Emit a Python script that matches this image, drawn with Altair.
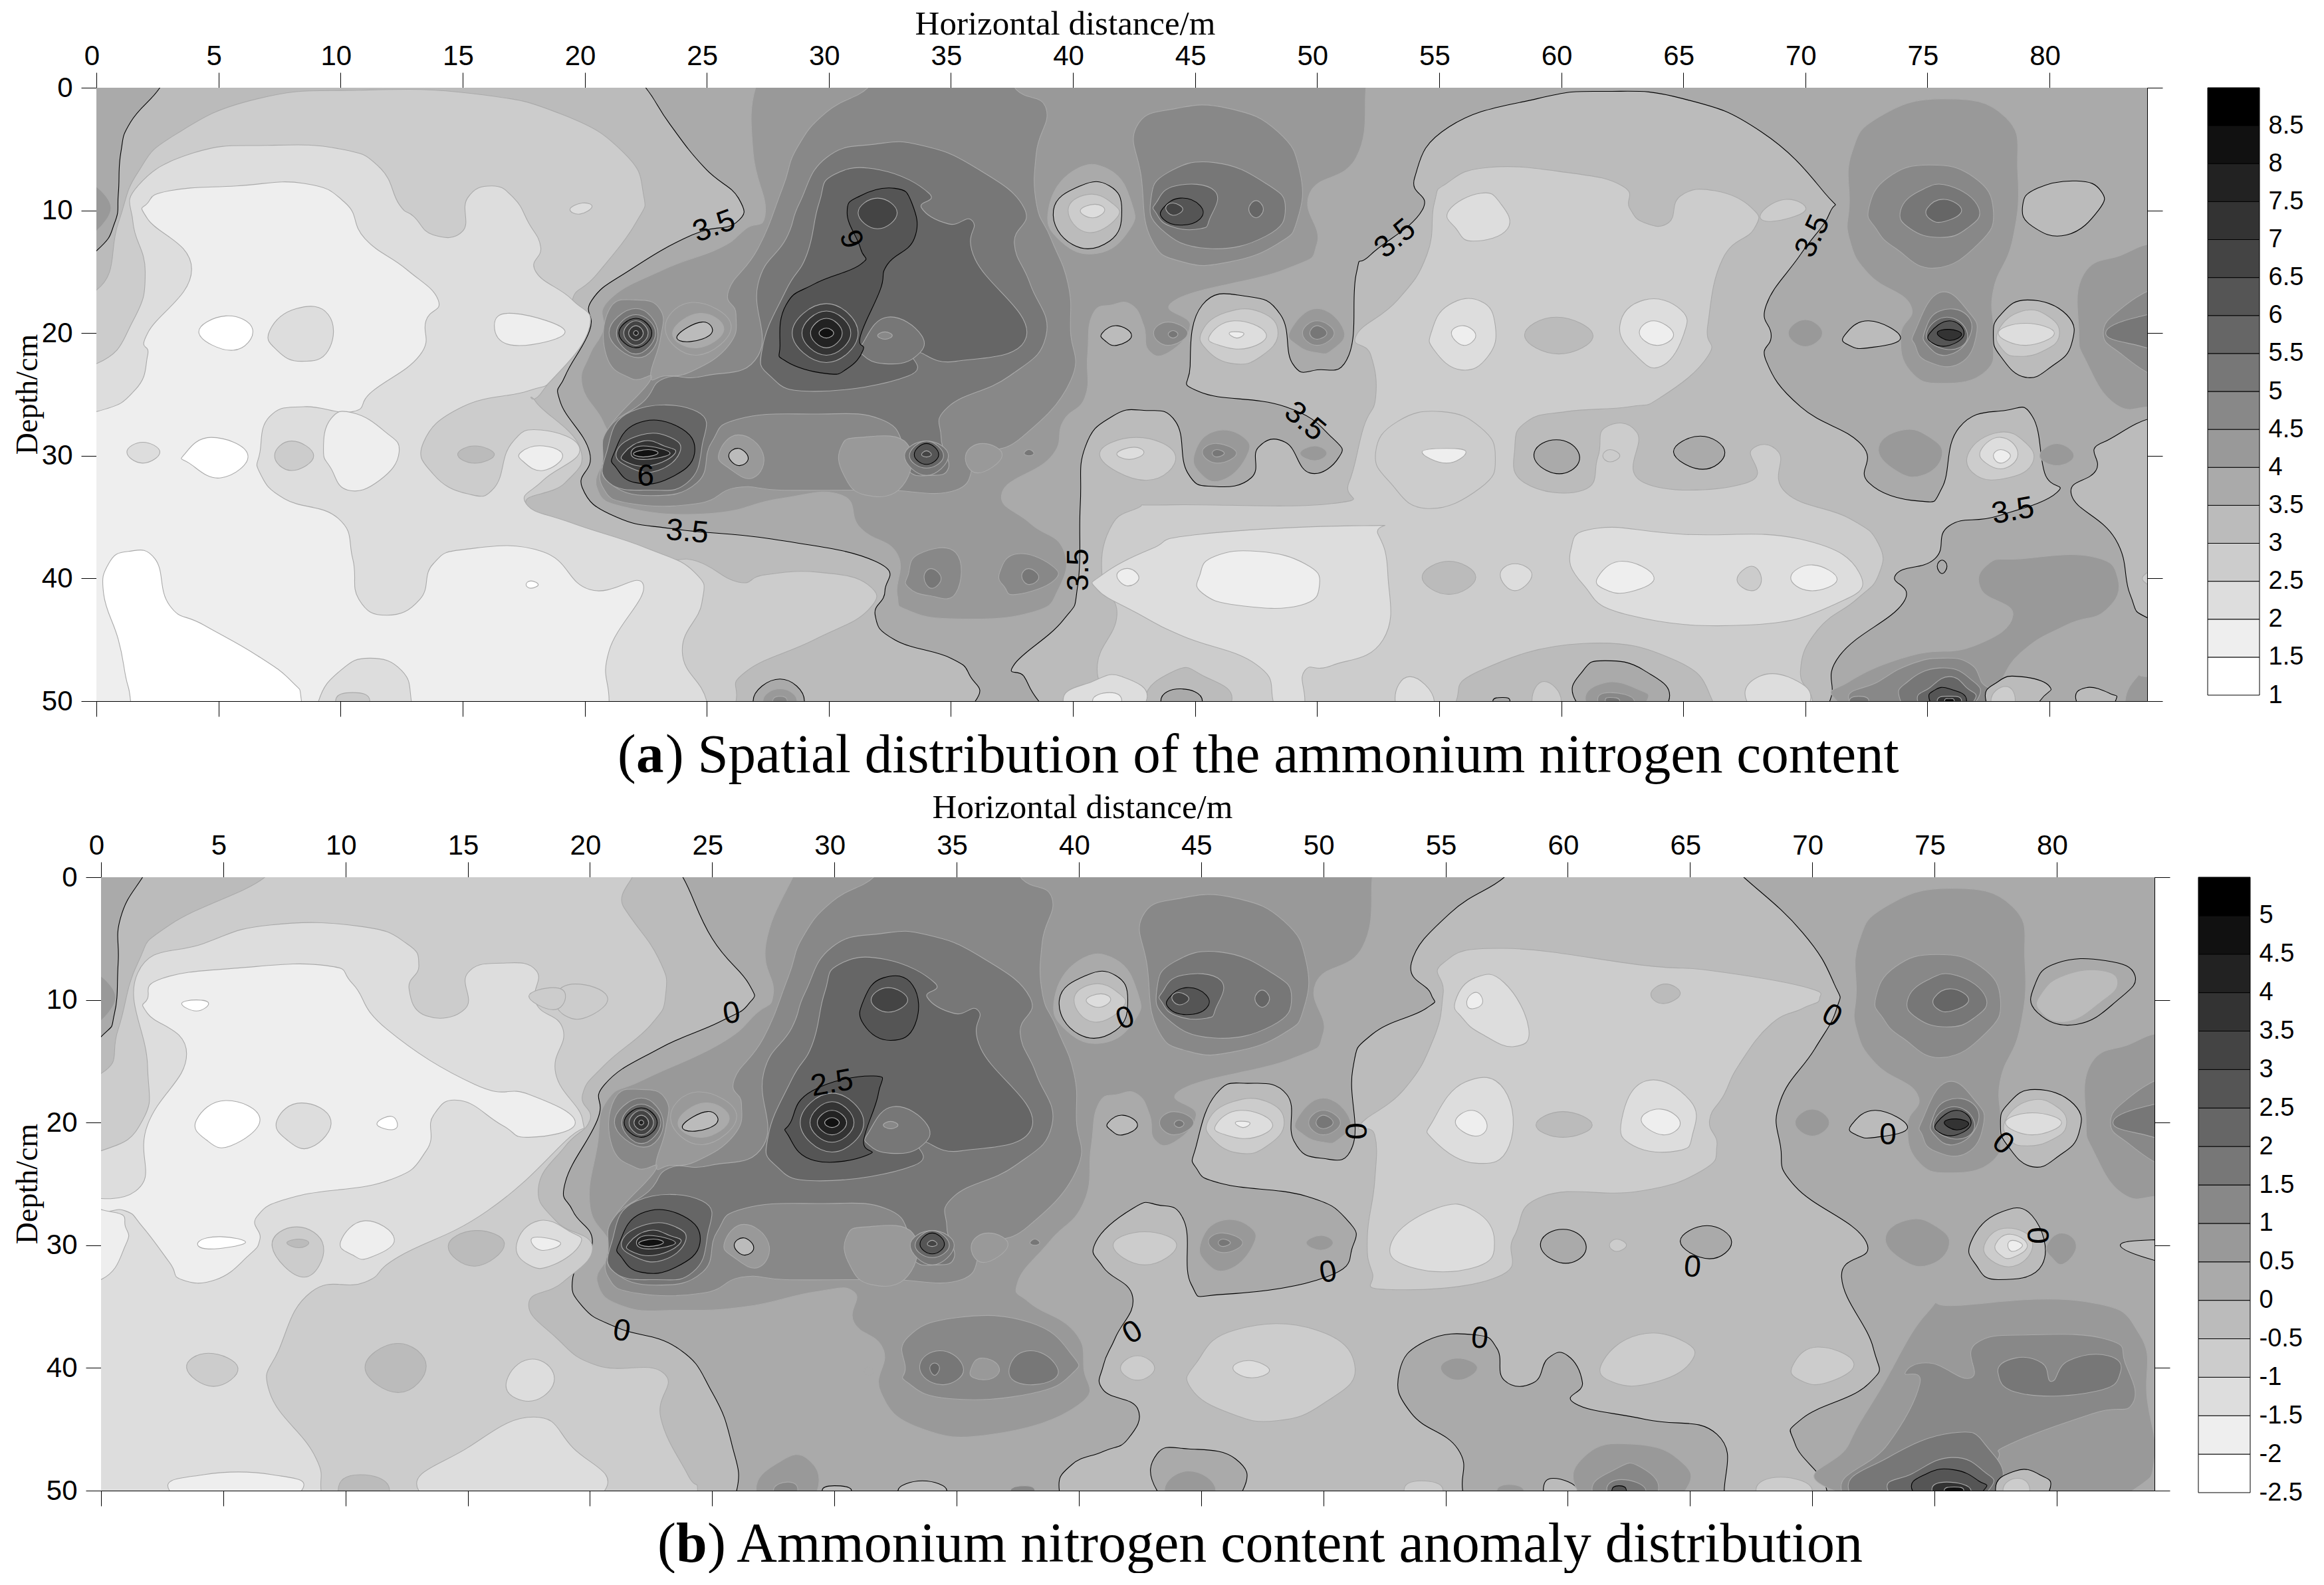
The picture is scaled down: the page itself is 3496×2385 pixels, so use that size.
import altair as alt
import pandas as pd

SANS = "Liberation Sans"
SERIF = "Liberation Serif"
X_TICKS = list(range(0, 85, 5))
Y_TICKS = [0, 10, 20, 30, 40, 50]
LEGEND_A = [1 + 0.5 * i for i in range(16)]
LEGEND_B = [-2.5 + 0.5 * i for i in range(16)]

# Contour regions: (band lower bound on panel a's scale, black outline, x,depth,x,depth...)
base = [(3.5, 0, [-30, -30, 114, -30, 114, 80, -30, 80])]

only_a_low = [
 (3, 1, [2.6,0,1.4,2.8,1,5.3,.9,8.6,.75,11,0,13.3,-2,16,-3,30,-3,53,15,54,34,53,36,50,35.8,48,35,46.5,32.7,45,31.9,43,32.3,41,31.9,38.6,27.7,36.8,23.8,36,21.3,35,19.9,32.6,20.2,29.7,19,25.6,19.2,23.5,20.2,19.8,20.3,17.3,21.9,14.8,24.4,12,26.2,11,26.3,9,24.9,6.5,23.5,3,22.5,0,21.5,-2,12,-3,3,-2]),
 (3, 1, [38.6,50,38,48,37.6,47,39.6,43.4,40.2,40.5,40.3,34,40.5,29.3,41.6,26.8,42.9,26.3,44.2,27.2,44.7,31.4,45.8,32.5,47.3,31.8,47.6,29.3,48.7,28.9,49.7,31.4,50.9,30.1,50.6,28.5,48.7,26,45.2,24.8,44.8,22.7,45.3,17.7,47.1,17,48.5,18.5,49,22.5,50,23,51.3,21.8,51.6,15.2,52.2,13.6,54.3,10,54,7.3,55.4,3.2,59,.9,61.8,.3,65,.9,68.2,3.6,70.8,8.6,71,10.2,69.8,13.6,68.4,17.7,68.6,20.2,68.4,22.3,69.8,26,72.3,29.1,72.6,32.2,74.7,33.7,75.6,32.6,76.3,27.7,78.2,26.3,79.3,26.8,79.8,31.4,80.3,33,77.9,34.9,75.9,35.7,75.3,38.4,73.7,39.7,74,42,71.4,46.3,71,50,70,53,50,54,40,53]),
 (3, 1, [85.5,28.5,82.2,28.9,81.9,31.2,80.9,33.2,82.7,36.8,83.3,41.3,84,43.2,86,44]),
 (2.5, 0, [0,16.5,.9,11,1.7,6.9,3.25,3.8,6.6,.9,10.75,.2,15.5,.5,19.1,2.2,21.6,5.3,22.4,8.6,22.1,11,20.5,15.2,19.5,17.3,20,19.8,18.25,24.8,18,25.6,19.8,29.3,19.2,32.2,17.6,33.9,19.9,35.9,23,38.2,24.6,38.6,26.3,40.3,27.4,39.7,29.6,39.5,31.6,40.5,31.6,42.6,29.4,45,26.6,47.6,26.2,50,26,54,10,55,-3,54,-3,30,-3,17]),
 (2, 0, [0,22.5,1.5,19,2,15,1.5,11,1.7,8,4,5.3,7,4.7,10,5,11.6,6.5,12.4,9.5,13,10.5,13.8,12,15,11.7,15.2,9,16.2,8,17.1,9,17.7,11,18.2,13,18,15,19.5,17.3,20.2,19.5,18.8,23.5,17.7,24.7,15,26,13.4,28.9,13.8,31.5,15.2,33.1,16.3,32.6,17,29,18.2,27.9,19.8,29.5,18.3,32,17.6,33.9,19.5,35.5,22.5,37.5,24.5,39.5,24.8,42,24,46,25,50,25,54,-3,54,-3,23]),
 (1.5, 0, [2.1,9.4,3,8.4,5.75,8,8.5,7.8,10.2,9.4,11,12.3,12.7,14.8,14,17.3,13.5,19,13.25,21.8,11.3,24.75,10.5,26.4,8.5,26,7.1,26.8,6.7,29.7,6.7,31.4,7.7,33.5,9.9,35.1,10.5,38.4,10.75,41.7,11.9,43,13.25,41.7,13.8,38.8,15.2,37.6,18.25,37.8,20.2,40.9,22.4,40.5,21,45.9,21,50,21,54,-3,54,-3,27,0,26.4,1.6,24.6,2.1,21.8,2.1,20,3.9,14.8,2.1,10.7]),
 (1.5, 0, [9.6,27,10.5,26.5,11.8,28,12.4,29.7,11.6,32,10.3,32.8,9.6,31,9.3,29.5]),
 (2.5, 0, [7.3,30,8,28.8,8.9,30,8,31.2]),
 (2, 0, [1.25,29.7,1.9,28.9,2.6,29.7,1.9,30.6]),
 (1, 0, [3.6,29.9,4.7,28.5,6.2,29.9,5.1,31.8,3.8,30.6]),
 (1, 0, [4.2,20,5.3,18.6,6.4,19.7,5.6,21.4]),
 (2, 0, [7.1,19.8,8.2,18,9.5,18.5,9.5,21.4,8.4,22.3,7.4,21.4]),
 (1.5, 0, [16.3,19.4,17.1,18.4,19.2,19.9,17.1,21]),
 (3, 0, [14.8,29.9,15.5,29.2,16.3,29.9,15.5,30.6]),
 (1.5, 0, [17.4,29.7,18.3,29.2,19.1,30,18.3,31.2,17.5,30.5]),
 (2, 0, [19.4,9.9,19.9,9.4,20.3,9.7,19.8,10.3]),
 (1, 0, [.3,41.3,.5,38.8,1.3,37.8,2.4,38.4,3,42.2,4.4,43.8,6.6,46.3,8,48.4,8.4,50,8.4,54,1.5,54,1.4,50,1.2,48,.9,45]),
 (1, 0, [17.6,40.5,17.8,40.2,18.1,40.5,17.8,40.8]),
 (2, 0, [9.1,50,10,47.5,11.2,46.5,12.5,47.5,12.9,50,12.9,53,9.1,53]),
 (2.5, 0, [9.8,50,10.5,49.3,11.2,50,10.5,52]),
 (3.5, 1, [26.9,50,28,48.2,29,50,28,52]),
 (4, 0, [27.3,50,28,49,28.7,50,28,51.5]),
 (4.5, 0, [27.7,50,28,49.6,28.3,50,28,51]),
 (2.5, 0, [54.8,9.4,55.3,7.8,57,6.5,60.2,6.9,62.5,8,62.8,9.8,63.4,11,64.4,11,64.9,8.8,66.3,8.4,67.8,9.8,67.9,11.5,66.6,14,66,19.4,66,21.9,64.1,25.2,62.8,26,60.2,26.4,58.6,27.2,58.1,29.3,58.5,32.2,60.9,32.8,61.5,30.1,61.8,27.7,63.1,28.1,63.4,32.2,67.6,32.2,67.8,29.5,68.9,29.7,69.2,33,71.8,35.1,73,37.2,73,39.7,72.1,41.7,70.5,44.2,69.8,47.5,70.3,50,70.3,53,66.2,53,66.2,50,64.7,46.7,60.9,45.3,56.7,47.5,55.7,50,55.7,53,42,53,41.5,50,41,47,41.8,43,41.2,40,41.5,36,42.6,34.3,44,34,50.6,33.9,51.3,32.2,51.9,27.7,52.4,25.2,52.2,21.8,51.6,20.2,53.3,17.3,54.5,13.6]),
 (2.5, 0, [52.4,29.7,53.3,27.2,55.1,26.4,56.7,27.7,57.3,30.1,56.7,32.6,54.5,34.3,53,32.2]),
 (1.5, 0, [54.3,29.7,55.3,29.4,56.1,29.7,55.3,30.6]),
 (2, 0, [55.4,10,56.7,8.6,57.5,9.4,57.8,11.5,56.4,12.5,55.7,11.5]),
 (2.5, 0, [68.2,10.2,69.2,9.1,70,10,68.6,10.9]),
 (2, 0, [54.7,19.8,55.4,17.7,56.7,17.4,57.3,19.4,57,21.9,55.9,23,54.8,21.4]),
 (1.5, 0, [55.5,20,56,19.4,56.5,20.2,56,21]),
 (3, 0, [58.5,20.2,59.8,18.7,61.3,20.2,59.9,21.7]),
 (2, 0, [62.4,19.4,63.4,17.3,64.9,18.1,65,20.2,64.1,22.7,63.1,21.9]),
 (1.5, 0, [63.2,20,63.8,19,64.6,20.1,63.9,21]),
 (2, 0, [41.2,39.7,43.2,37.6,45.2,36.4,51.9,35.7,52.5,36.4,52.9,39.7,52.7,45,50.6,47.1,49.5,47.5,49.5,50,49.5,53,48.2,53,48.2,50,47.5,47,44.5,44.7,42.6,42.8,41,40.9]),
 (1.5, 0, [45.2,39.7,45.8,38.2,47.6,37.8,49.5,38.8,50.1,40.5,49.3,42.2,46.8,42.2,45.3,41.2]),
 (1.5, 0, [41.8,39.7,42.3,39.2,42.7,40,42.2,40.6]),
 (3, 0, [43,50,44.2,47.5,45.3,47.9,46.5,50,44.7,53]),
 (3.5, 1, [43.6,50,44.4,49,45.3,50,44.4,52]),
 (2, 0, [39.6,50,40.8,48.4,42,48,43,50,41,53]),
 (1.5, 0, [40.8,50,41.5,49.3,42,50,41.5,51.5]),
 (2, 0, [53.2,50,53.8,48,54.8,50,54,52]),
 (3, 0, [54.3,39.9,55.4,38.6,56.5,39.9,55.4,41.3]),
 (2, 0, [57.5,39.7,58.1,38.8,58.8,39.7,58.1,41]),
 (2, 0, [60.4,37.6,61.5,35.9,65,36.4,69.8,36.8,72.25,39.7,71.1,42.2,67.6,43.8,62.8,43,60.9,40.5]),
 (1.5, 0, [61.5,39.9,62.5,38.6,63.8,39.9,62.8,41.1,61.8,40.9]),
 (1.5, 0, [69.4,39.9,70.3,38.9,71.3,40.1,70.2,41]),
 (2.5, 0, [67.2,40.1,67.8,39,68.2,40.1,67.8,41]),
 (3.5, 1, [57.2,50,57.6,49.7,57.9,50,57.6,51]),
 (3.5, 1, [60.6,50,60.9,47.5,61.8,46.7,63.4,47.5,64.4,50,62.5,53]),
 (4, 0, [61,50,61.8,48.5,63.1,49,63.5,50,62.2,52]),
 (4.5, 0, [61.5,50,62,49.3,63,50,62.2,51.5]),
 (5, 0, [61.8,50,62,49.7,62.4,50,62,51]),
 (2.5, 0, [58.8,50,59.3,48.4,60,50,59.3,52]),
 (2, 0, [67.6,50,68.1,48,69.5,48.2,70.2,50,69,52]),
 (2.5, 0, [41.1,30,42.6,28.5,44.2,30,43,32]),
 (2, 0, [41.8,29.8,42.5,29.3,42.9,29.8,42.3,30.3]),
 (2.5, 0, [76.7,29.7,77.9,28.1,79,28.9,79.3,30.6,78.3,31.8,77,31.6]),
 (2, 0, [77.2,29.5,78,28.5,78.7,29.7,78.2,31,77.4,30.6]),
 (1.5, 0, [77.7,30,78,29.5,78.4,30,78,30.6]),
 (3.5, 1, [75.4,39,75.6,38.5,75.8,39,75.6,39.6]),
]

only_a_high = [
 (4, 0, [27,0,26.9,5.3,27.4,10.2,26.6,11.5,25.5,13.1,23.25,14.8,21,17.3,20.75,19.8,20.2,21.8,19.9,24.3,20.75,27.2,21,29.3,20.5,32.6,21.9,34.3,25.2,34.7,28,33.5,30.5,33.2,31.3,35.9,32.8,38,32.8,41.3,33.25,42.6,35.2,43.3,38.25,42.8,39.4,40.9,39.6,37.6,38.25,35.5,37.1,33,39.1,30.1,39.6,27.2,40.5,25.2,40.6,21.8,40.8,18.5,41.6,17.7,42.4,17.7,42.9,19.4,43.1,21.4,43.9,21.6,44.8,19.4,44.2,17.3,48.7,14.8,50,12.7,49.7,8.6,51.6,5.7,52,0,52,-2,40,-3,28,-2]),
]

only_a_top = [
 (6, 1, [30.75,10.2,31.3,8.8,32.7,8.2,33.4,9.4,33.5,12.3,32.4,14.4,32.1,16.5,31.3,20.2,31.4,21.4,30.75,22.9,29.9,23.3,28.25,22.3,28,21,28.25,17.7,29.4,16,31.3,14.4,31.3,13.1]),
 (6.5, 0, [31.2,10.2,32,9,32.8,10.2,32,11.5]),
 (6.5, 0, [28.5,20,29.9,17.6,31.2,20,29.9,22.4]),
 (7, 0, [28.9,20,29.9,18.2,30.9,20,29.9,21.8]),
 (7.5, 0, [29.25,20,29.9,18.8,30.55,20,29.9,21.2]),
 (8, 0, [29.6,20,29.9,19.6,30.2,20,29.9,20.4]),
 (4.5, 0, [33.25,39.7,33.7,38,35.2,37.9,35.2,41.2,34.1,41.4,33.25,40.7]),
 (5, 0, [33.9,39.9,34.2,39.2,34.6,40,34.2,40.8]),
 (4.5, 0, [37,39.5,37.7,38,39.1,38.9,39.2,40.2,37.7,41.3,37.2,40.7]),
 (5, 0, [37.9,39.8,38.2,39.2,38.6,39.9,38.2,40.5]),
 (4, 0, [71.3,50,71.8,48.4,74.3,46.3,76.9,45.5,78.5,43,77.2,40.9,77.5,38.8,78.8,38.4,81.7,38.2,82.8,40,82.3,42.6,80.7,43.8,78.8,46.1,77.2,50,74,53]),
 (4, 0, [83.1,50,83.6,48,84,48,86,48,86,53,83.5,52]),
 (4.5, 0, [71.8,50,73,48.4,74.3,47,75.6,46.5,76.7,46.9,77.2,48.4,77.4,50,74,53]),
 (5, 0, [73.9,50,74.2,48.4,75.5,47.3,76.7,48.1,77,50,75,53]),
 (5.5, 0, [74.6,50,75.1,48.9,75.9,48,76.6,48.9,76.9,50,75.5,52]),
 (6, 1, [75.1,50,75.3,49.1,75.9,49,76.6,50,75.8,52]),
 (7, 0, [75.4,50,75.9,49.6,76.4,50,75.9,51.5]),
 (8, 0, [75.7,50,75.9,49.8,76.1,50,75.9,51]),
 (5, 0, [71.8,50,72.2,49.6,72.6,50,72.2,51]),
 (3, 1, [77.4,50,77.9,48.4,78.8,48,80,48.8,79.6,50,78.5,53]),
 (2.5, 0, [77.6,50,78.2,48.8,78.6,50,78.2,52]),
 (3, 1, [81.1,50,81.5,48.9,82.5,49.4,82.7,50,82,52]),
 (2.5, 0, [83.8,40,85,39,85,41]),
]

only_b_low = [
 (3, 1, [1.7,0,.8,3.3,.7,7,.55,11.1,0,13,-2,16,-3,30,-3,53,15,54,25,53,26,50,25.8,46.2,25,42,23.6,38.4,21.1,36.7,19.7,35,19.3,32.6,20.1,29.7,19.3,27.2,19,24.8,20.3,19.8,20.6,16.9,22.8,14,25.3,11.8,26.5,10.3,26.5,8.7,25,5,23.8,0,23,-2,12,-3,2.5,-2]),
 (3, 1, [39.2,50,39.7,47.9,41,46.8,42,45.8,42.4,43.3,41,41.8,41,39.8,41.5,37.5,42.2,34.2,41,31.8,40.7,29.7,42.2,27,43.2,26.7,44.3,28,44.6,33.2,45.9,34,50.1,32.6,51.2,30.1,51,28,49.3,26,45.9,25,44.8,23.7,44.8,21.9,45.6,17.7,46.9,16.8,48.5,17.7,48.8,21.5,49.9,22.9,51.2,21.9,51.2,15.7,52,12.8,54.2,10.7,54.4,9.5,53.6,7,55.2,2.9,57.4,0,58,-2,66,-2,67.2,0,69.6,4.5,70.9,8.7,71,10.7,70.1,14,68.7,18.2,68.7,21.9,69.3,25.2,72.2,29.7,71.2,32.6,72.5,38.4,72.3,41.3,69.6,44.1,69.3,46.2,70.6,50,70,53,40,53]),
 (3.5, 1, [55.7,50,55.5,46.6,53.6,43.7,53.1,40.4,54.2,37.8,56.2,37.3,57.1,38.4,57.4,41,58.6,41.2,59.2,39.2,60,39,60.6,41.2,60.3,42.9,63.2,44.2,66.1,45.4,66.4,50,66,53,56,53]),
 (2.5, 0, [0,16,.7,12.4,1.5,7,2.8,3.9,6.7,0,6.5,-2,20,-2,21.4,2.5,22.8,6.6,23.1,9.5,22.5,12,20.6,15.3,19.7,17.7,20,19.8,19,21.9,17.9,25.2,18.6,28,20.1,30.1,18.9,33,17.5,34.7,18.6,37.5,20.3,39.8,23,40.4,22.9,44.1,24,48.7,24.4,50,24,53,-3,53,-3,30,-3,17]),
 (2, 0, [0,22.3,1.7,19.8,1.9,15.3,1.5,7.8,4.2,5.4,6.9,3.9,10.6,4,12.5,5.4,13,7.2,12.6,9.1,13.3,11.3,14.9,10.7,15,7.8,16.4,7,17.8,7.6,17.8,10.3,18.9,12.4,18.6,16,19.7,19.8,19,21.5,15.8,27.2,12.2,30.9,10.8,33,8.6,33.8,7.3,38.4,6.9,42,8.7,47,9,50,9,53,-3,53,-3,23]),
 (2, 0, [13,50,15,46.5,17.7,44,19.3,46.5,20.6,50,17,53]),
 (1.5, 0, [1.9,9.9,2.5,8.25,5.6,7.4,9.2,7.2,10.3,8.7,11.7,12.4,15.3,16.9,17.5,17.7,19.4,20,17.5,21.2,16.4,20.2,14.7,18.2,13.6,19.4,13.3,22.3,11.7,24.75,8,26,6.4,27.6,6.5,29.5,6,30.9,4.7,32.8,3.3,32.8,2.8,31.4,1.7,28.5,1,27.2,0,27.3,-2,27.5,-2,26,1.4,25.6,1.9,20.2,3.5,14.4,1.9,11.1]),
 (1.5, 0, [-2,27.5,.5,27.3,1,28.5,1,30,0,32.8,-2,33]),
 (2, 0, [7.2,19.8,8.2,18.4,9.4,19.8,8.6,22,7.6,21.4]),
 (1, 0, [3.9,19.8,5.1,18.2,6.5,19.7,5.3,21.9,4.3,21.4]),
 (1, 0, [11.3,20,11.9,19.5,12.1,20.4,11.6,20.5]),
 (1, 0, [3.3,10.3,3.9,10,4.4,10.3,3.9,10.9]),
 (2.5, 0, [18.6,9.7,19.4,8.7,20.7,9.7,20,11.3,19,11.3]),
 (2.5, 0, [17.5,9.7,18.5,9,19,9.7,18.5,10.8]),
 (1, 0, [4,29.7,4.9,29.3,5.9,29.8,4.4,30.3]),
 (1.5, 0, [9.8,29.7,10.8,28,12,29.5,11,31,10.3,30.8]),
 (2.5, 0, [7,30.1,8,28.5,9.1,30.1,8.3,32.6]),
 (3, 0, [7.6,29.8,8.1,29.5,8.5,29.8,8.1,30.2]),
 (3, 0, [14.2,30.1,15.3,28.8,16.5,29.9,15.3,31.7]),
 (2, 0, [17,29.9,17.9,28,19.2,28.9,19.6,29.9,18.5,31.6,17.5,31.6]),
 (1.5, 0, [17.6,29.5,18.2,29.4,18.8,29.9,18,30.4]),
 (2.5, 0, [3.5,40,4.4,38.8,5.6,40,4.6,41.5]),
 (3, 0, [10.8,40,12.1,38,13.3,39.8,12.2,42]),
 (2, 0, [16.6,41,17.5,39.3,18.5,40.4,18.1,42.3,17,42.5]),
 (1.5, 0, [2.8,50,4.2,48.7,7,48.7,8.2,50,5.5,53]),
 (3, 0, [9.7,50,10.6,48.7,11.8,50,10.6,53]),
 (2.5, 0, [54.9,9.5,54.9,7,57.4,5.8,63.2,7.2,65.8,7.6,69.6,8.9,70.3,9.9,69.6,10.7,68.3,12,67,15.3,66.4,17.7,65.8,19.8,66.1,21.9,65.5,23.9,62.9,25.6,59,26,57.8,29.3,57.1,32.6,52.6,33.6,52,32.2,51.8,29.3,52.1,24.8,52.1,21,51.5,20.2,53.3,17.3,54.5,13.2]),
 (2, 0, [52.8,29.7,54.6,27,56.2,27.2,57,29.7,56.2,31.8,53.6,31.8]),
 (2, 0, [55.4,10.1,56.2,8.2,57.4,8.6,58.4,12.3,57.8,13.8,56.5,12.8,55.7,11.5]),
 (1.5, 0, [55.9,9.9,56.3,9.4,56.5,10.3,56,10.7]),
 (2, 0, [54.5,19.8,55.8,16.7,57.4,17.3,57.6,21.9,56.2,23.3,54.5,21.4]),
 (1.5, 0, [55.4,20,56.1,19,56.7,20.2,56.2,21.1]),
 (3, 0, [58.7,20.2,59.8,19.1,61,20.2,59.8,21.2]),
 (2, 0, [62.2,19.8,63.2,16.6,65,18.2,65.1,21,64.5,22.3,62.7,21.9]),
 (1.5, 0, [63,19.8,63.8,18.9,64.6,20,63.9,21]),
 (3, 0, [63.4,9.5,64,8.7,64.6,9.5,63.9,10.3]),
 (2.5, 0, [44.8,39.6,46.4,36.9,49.7,36.9,51.3,40,50,42.9,48.1,44.3,46.2,43.7,44.6,41.7]),
 (2, 0, [46.3,40,47,39.4,47.8,40.2,47,40.8]),
 (2.5, 0, [41.7,40,42.4,39,43.1,40,42.4,41]),
 (2.5, 0, [61.4,39.6,62.9,37.3,64.8,37.9,65,39.6,63.5,41.2,61.9,41.2]),
 (2.5, 0, [69.2,39.8,70.2,38.3,71.7,39.6,70.6,41.2,69.5,41]),
 (4, 0, [54.8,40,55.5,39.2,56.3,40,55.5,41]),
 (3.5, 1, [43.2,50,43.2,47,44.5,46.6,46.4,47.4,46.7,50,45,53]),
 (4, 0, [43.5,50,44.5,48.4,45.6,50,44.5,52]),
 (2.5, 0, [67.7,50,68.7,48.9,70,50,68.8,52]),
 (2.5, 0, [53.3,50,54,49.2,54.9,50,54,52]),
 (4, 0, [57.1,50,57.6,49.5,58.2,50,57.6,51]),
 (3, 1, [59,50,59.4,49,60.4,50,59.4,51.5]),
 (2.5, 0, [41.4,30,42.7,28.9,44,30,42.7,31.6]),
 (3, 1, [76.5,29.7,77.6,27.4,79,27.6,79.4,31.6,77.6,32.8,76.7,31.6]),
 (2.5, 0, [77.1,29.7,78,28.6,79,29.7,78.4,31.6,77.3,31.2]),
 (2, 0, [77.5,29.9,78.1,29.1,78.8,30,78.2,31,77.7,30.8]),
 (1.5, 0, [78,30,78.2,29.6,78.6,30,78.2,30.5]),
 (4, 0, [79.6,30,80.2,29,80.8,30,80.3,31.5,79.8,31]),
 (3, 1, [82.6,30,84.5,29.5,85.5,29.5,85.5,31.5,84.5,31.5]),
 (2.5, 0, [79.5,9.8,80.3,8.8,81,9.8,80.3,10.4]),
]

only_b_high = [
 (4, 0, [28.3,0,27.2,5.4,27.5,9.5,26.8,11.1,25.3,13.6,22.2,16.5,20.7,18.2,20.3,21.9,20,26.8,20.8,30.1,20.3,33,21.4,35,23.6,35.3,26.4,35,29.2,33.8,30.8,33.8,30.8,36.3,32,38.5,31.9,42,33.5,44.9,36.5,45.4,40,43,40.2,40,39.8,37,38,34.7,37.5,33,38.8,29.7,40.2,26.5,40.5,22,40.8,18.5,41.6,17.7,42.4,17.7,42.9,19.4,43.1,21.4,43.9,21.6,44.8,19.4,44.2,17.3,48.7,14.8,50,12.7,49.7,8.6,51.6,5.7,52,0,52,-2,40,-3,29,-2]),
]

only_b_top = [
 (6, 1, [31.2,10,32,8.2,33.2,8.8,33.3,12,32.3,13.3,31.2,12]),
 (6.5, 0, [31.5,10,32.2,9,33,10,32.2,11]),
 (6, 1, [28.2,20,29.1,17.4,31.6,16.2,31.8,17.6,31.2,21.4,31.4,22.6,29.2,23.1,28.1,21]),
 (6.5, 0, [28.6,20,29.9,17.6,31.2,20,29.9,22.4]),
 (7, 0, [29,20,29.9,18.3,30.8,20,29.9,21.6]),
 (7.5, 0, [29.3,20,29.9,19,30.5,20,29.9,21]),
 (8, 0, [29.6,20,29.9,19.6,30.2,20,29.9,20.4]),
 (4.5, 0, [32.9,40,33,37.5,35,35.9,38,36.3,39.7,38.9,39.7,40.5,38,42.1,34.7,42.5,33,41.2]),
 (5, 0, [33.5,39.7,34.3,38.6,35.2,39.6,35,41,34,41.2]),
 (5.5, 0, [33.9,40,34.1,39.6,34.3,40,34.1,40.6]),
 (4, 0, [35.6,40,36,39.2,36.7,39.8,36.5,40.8,35.7,40.8]),
 (5, 0, [37.2,39.7,38,38.6,39,39.6,38.9,41,37.5,41.2]),
 (3.5, 0, [31.2,40.3,31.4,39.9,31.6,40.3,31.4,40.6]),
 (3, 1, [29.5,50,30,49.6,30.7,50,30,51]),
 (3, 1, [32.6,50,33.6,49.2,34.6,50,33.6,51]),
 (4.5, 0, [37.2,50,37.8,49.6,38.2,50,37.8,51]),
 (4, 0, [26.8,50,27.8,47.6,28.9,47.4,29.3,50,28,53]),
 (4.5, 0, [27.5,50,28.1,49.3,28.5,50,28,51.5]),
 (4, 0, [70.9,50,71.5,46.2,72.8,41.7,74.7,35.5,76,34.9,81.2,34.6,83.4,37.3,83.7,42.5,84,47.4,83.1,50,80,53]),
 (4.5, 0, [71.2,50,73.1,46.2,74.4,41.3,73.8,40.4,74.8,39.6,76.5,40.8,76.7,38,79,37.3,82.1,37.7,82.8,39.6,83.1,42.9,81.5,43.7,78.1,46.2,77.6,47.4,77,50,74,53]),
 (5, 0, [77.6,40.4,78.3,39.2,79.4,39.6,79.8,41.1,80.5,39.4,82.1,39,82.6,40.4,81.6,41.9,78.6,42.1]),
 (5, 0, [71.5,50,73.1,47.3,75.7,45.3,77.1,46.3,77.5,50,74,53]),
 (5.5, 0, [73.1,50,74.1,48.6,75.7,47.3,77,48.4,77.2,50,75,53]),
 (6, 1, [74.1,50,74.7,48.6,75.8,48.3,76.8,49.2,77,50,75.5,52]),
 (7, 0, [74.9,50,75.5,49.3,76.5,50,75.7,51.5]),
 (8, 0, [75.4,50,75.8,49.7,76.2,50,75.8,51]),
 (3, 1, [77.5,50,78.3,48.4,79.3,48.7,79.7,50,78.5,53]),
 (2.5, 0, [77.8,50,78.4,49,78.9,50,78.4,52]),
 (4, 0, [60.4,50,60.8,47,62.6,46.2,64.5,47.4,64.8,50,62.5,53]),
 (4.5, 0, [61,50,62,48.2,62.9,48,63.7,50,62.4,52]),
 (5, 0, [61.6,50,62.2,49.1,63.2,50,62.4,51.5]),
 (6, 1, [61.8,50,62.1,49.6,62.4,50,62.1,51]),
 (3.5, 1, [79.1,8.8,80,7,82,6.8,83.2,8,82.5,10,80.8,12,79.2,11]),
 (3, 0, [79.4,9.4,80.3,8,81.8,7.6,82.5,8.6,81.8,10.2,80.4,11.8,79.3,10.9]),
]

shared_high = [
 (4, 0, [-1,7.5,.6,9.8,-1,12.5]),
 (3.5, 0, [39,9.9,40,6.8,41.5,6.7,42.4,9.4,42.3,11.6,41,13.5,39.5,12.5]),
 (3, 1, [39.2,10,40.3,8,41.5,8,42,10,41.5,12.5,40,12.8]),
 (2.5, 0, [39.8,10,40.6,8.7,41.6,9.4,41.8,10.6,40.6,11.8]),
 (2, 0, [40.3,10,40.9,9.5,41.3,10,40.8,10.6]),
 (4.5, 0, [31.6,0,29.9,2,28.7,4.9,28.1,8.2,27.1,13.1,25.9,16.5,26.2,18.5,25.9,21,24.4,23.1,23.25,23.5,22.7,23.5,23.1,20.5,23.1,18.1,22.1,17.3,21,18.1,20.9,21.9,21.9,23.7,22.7,23.8,21,27.7,20.75,30.1,20.75,32.6,21.9,33.9,24.6,33.9,26.2,32.6,28,32.8,30.75,32.8,32.4,32.8,35.2,32.8,36.2,30.1,37.9,28.5,39.9,23.9,39.9,19.8,39.8,16,39.1,12.3,38.5,9.4,38.5,5.3,38.9,1.7,37.7,.2,37,-2,32,-2]),
 (4.5, 0, [42.6,3.2,44.2,1.7,46.4,1.7,48.4,3.6,49.3,6.9,49.2,10.7,48.4,12.7,46.4,14.2,44.5,14.2,43.2,12.3,42.8,7.3]),
 (5, 0, [29.9,5.7,28.8,9.4,28.25,12.3,27.1,16,27.1,21.85,24.9,23.5,23.25,23.7,22.4,25.6,21,27.7,20.75,30.1,21,32.2,22.7,33.25,24.6,32.2,25.2,28.9,26.3,27,29.4,26.6,32.1,27,33.1,29.3,33.25,31.2,34.1,31.6,34.9,31,34.6,28.5,34.9,26,37.4,23.5,38.9,20.2,38.25,16,37.6,12.7,38,9.8,36,6.5,33.8,4.7,31.9,4.6]),
 (5.5, 0, [30.2,7.1,32.1,6.7,34.1,8.6,33.8,9.8,34.9,11.1,35.9,10.9,36,14,38.1,20.2,35.2,22.3,33.5,21.6,33.25,23.5,29.4,24.75,27.6,23.5,27.3,21,28.25,16.5,29.1,13.6,29.6,9.4]),
 (5, 0, [31.4,20.8,32.4,18.7,33.8,20.2,33.5,22,32.3,22.5,31.4,21.8]),
 (4.5, 0, [32,20.2,32.3,19.9,32.6,20.2,32.3,20.5]),
 (5, 0, [21,20,22.1,18,23,20,22.2,22]),
 (5.5, 0, [21.3,20,22.1,18.5,22.9,20,22.1,21.7]),
 (6, 1, [21.4,20,22.1,18.8,22.75,20,22.1,21.2]),
 (6.5, 0, [21.6,20,22.1,19,22.6,20,22.1,21]),
 (7, 0, [21.8,20,22.1,19.4,22.4,20,22.1,20.6]),
 (7.5, 0, [22,20,22.1,19.8,22.2,20,22.1,20.2]),
 (5.5, 0, [20.9,29.7,21.9,26.4,24.6,26.4,24.8,29.3,24.2,32.2,22.7,32.8,21,32.2]),
 (6, 1, [21.2,29.8,22.1,27.4,23.8,27.6,24.5,29.8,23.5,31.8,22.1,32.2,21.3,31]),
 (6.5, 0, [21.3,29.7,22.3,28.3,23.5,28.5,23.9,29.7,23,31.2,21.9,31]),
 (7, 0, [21.6,29.8,22.4,28.8,23.25,29.2,23.7,29.8,22.7,30.8,21.7,30.5]),
 (7.5, 0, [21.9,29.8,22.4,29.2,23.5,29.8,22.4,30.3]),
 (8, 0, [22,29.8,22.6,29.5,23,29.8,22.4,30.1]),
 (4, 0, [23.3,19.7,24.4,17.5,26,19.4,24.6,21.8]),
 (3.5, 0, [23.6,20,24.7,18.4,25.7,19.7,24.6,21.2]),
 (3, 1, [23.8,20.2,24.8,19.1,25.2,20,24.3,20.7]),
 (4, 0, [25.5,29.8,26.3,28.3,27.3,29.8,26.9,31.8,25.9,31]),
 (3, 1, [25.9,30,26.3,29.4,26.7,30.2,26.3,30.8]),
 (4, 0, [30.5,29.3,31.3,28.5,33.2,29,33,32.5,31.5,33.2,30.6,31.5]),
 (4, 0, [35.6,30,36.3,29,37.1,30,36.1,31.4]),
 (5, 0, [38,29.8,38.2,29.5,38.4,29.8,38.2,30]),
 (5, 0, [33.1,30,34,28.8,34.9,30,34,31.6]),
 (5.5, 0, [33.3,30,34,28.8,34.7,30,34,31]),
 (6, 1, [33.5,29.9,34,29,34.5,29.9,34,30.7]),
 (6.5, 0, [33.8,29.9,34,29.6,34.2,29.9,34,30.1]),
 (5, 0, [43.2,9,43.9,6.9,45.8,6.1,47.9,7.8,48.7,9.8,47.9,12.1,45.5,13.1,43.6,11.5]),
 (5.5, 0, [43.4,9.4,44.2,8,45.8,8.4,45.6,10.7,45.2,11.5,44,11.3,43.4,10.2]),
 (5.5, 0, [47.2,9.9,47.5,9.2,47.8,9.9,47.5,10.6]),
 (6, 1, [43.7,9.8,44.4,9,45.2,9.6,45.2,10.7,44.4,11.2,43.7,10.7]),
 (6.5, 0, [43.8,9.8,44.1,9.4,44.5,9.9,44.1,10.4]),
 (2.5, 0, [45.3,19.8,46.3,18.3,47.7,18.3,48.4,20,47.7,21.9,46.6,22.5,45.5,21.4]),
 (2, 0, [45.6,20.2,46.6,19,47.9,20,47.2,21.2,46,21]),
 (1.5, 0, [46.4,20,46.8,19.9,47,20.1,46.7,20.4]),
 (3, 1, [41.2,20,41.8,19.4,42.4,20.2,41.8,21,41.3,20.6]),
 (4.5, 0, [43.3,20,43.9,19.1,44.7,20,43.9,21]),
 (5, 0, [43.9,20.1,44.1,19.8,44.3,20.1,44.1,20.4]),
 (4, 0, [48.9,19.8,50,18,51.1,19.8,50.6,21.4,50,21.6,49.2,21]),
 (4.5, 0, [49.4,20,50,19,50.7,20,50,21]),
 (5, 0, [49.7,20,50,19.4,50.4,20,50,20.5]),
 (4, 0, [45,29.7,45.8,28,47,28.5,47.1,30.1,46.1,32,45.2,31.4]),
 (4.5, 0, [45.3,29.7,45.9,29,46.7,29.8,45.9,30.6]),
 (5, 0, [45.7,29.8,45.9,29.5,46.2,29.8,45.9,30.1]),
 (4, 0, [49.3,29.8,49.9,29.2,50.4,29.8,49.9,30.4]),
 (4, 0, [71.8,9.4,71.9,5.3,73,2.4,75.6,.9,78.2,2.4,78.7,6.9,78.5,12.3,77.7,16.5,77.7,20.2,77.4,23.1,75.6,24.1,74.3,23.1,73.9,20.2,74.3,17.7,72.6,15.2,71.8,12.3]),
 (4.5, 0, [72.6,9.8,73.4,7.3,75.1,6.3,76.9,7.3,77.7,10,77.1,12.7,75.3,14.7,73.7,13.1,72.9,11.5]),
 (5, 0, [73.9,10,74.7,8.4,75.9,8,77.1,9.8,76.6,11.5,75.5,12.2,74.3,11.5]),
 (5.5, 0, [75,9.8,75.7,9.1,76.4,10,75.7,10.9,75.1,10.7]),
 (4.5, 0, [74.5,19.8,75.5,16.7,76.7,18.3,77,20.2,76.3,22.5,75,22.3,74.5,21]),
 (5, 0, [74.9,19.8,75.5,18.2,76.6,18.5,76.7,20.4,75.8,21.8,75,21]),
 (5.5, 0, [75,19.8,75.8,18.7,76.6,19.8,76.3,21.2,75.3,21]),
 (6, 1, [75.1,20,75.9,19,76.5,20,75.9,21,75.2,20.8]),
 (7, 1, [75.4,20,75.9,19.7,76.4,20.1,75.9,20.6]),
 (3, 1, [77.7,20.2,78,18.5,79.1,17.3,80.7,18.5,80.9,20.9,80.1,22.7,79,23.6,78,21.9]),
 (2.5, 0, [77.9,19.8,78.9,18.2,80,18.7,80.4,20.2,79.8,21.4,78.8,21.9,78.1,21.4]),
 (2, 0, [77.9,20,79,19.2,80.2,20,79,21]),
 (3, 1, [71.6,20.2,72.6,19,73.9,20.4,72.6,21.2,71.8,21]),
 (4, 0, [69.3,20,70,18.9,70.7,20,70,21.1]),
 (4, 0, [81.2,19.8,81.4,15.2,83,13.6,84.2,12.7,85.5,12.7,85.5,26,84.2,26,82.7,25.8,81.5,22.3]),
 (4.5, 0, [82.2,20,83,17.9,84.5,16.2,85.5,16,85.5,24,84.5,23.7,83,21.8]),
 (5, 0, [82.3,20,83.6,18.7,85.5,18.5,85.5,21.5,83.6,21]),
 (3.5, 1, [58.9,29.7,59.8,28.7,60.7,29.7,60.4,31.2,59.4,31.2]),
 (3.5, 1, [64.6,29.7,65.7,28.4,66.7,29.7,65.8,31.1]),
 (2.5, 0, [61.7,30,62,29.5,62.4,30,62,30.5]),
 (4, 0, [73,29.3,74,27.9,75.1,28.5,75.6,30,74.8,31.6,73.7,31.2]),
]

only_a_last = [
 (3, 1, [78.9,9.6,79.5,8.2,81.1,7.6,82.1,8.4,82,10,80.7,12,79.3,11.3]),
 (4, 0, [79.6,30,80.3,29,81,30,80.3,30.8]),
]

labels_a = [("3.5",25.3,11.3,340),("6",31,12.3,250),("6",22.5,31.7,0),("3.5",24.2,36.2,5),("3.5",40.25,39.3,270),
            ("3.5",53.2,12.3,320),("3.5",70.3,12.1,295),("3.5",49.5,27.2,40),("3.5",78.5,34.5,350)]
labels_b = [("0",25.8,11.1,350),("2.5",29.9,16.8,350),("0",21.3,37,10),("0",41.9,11.5,340),("0",42.2,37.1,330),
            ("0",51.3,20.7,90),("0",50.2,32.2,350),("0",56.4,37.6,5),("0",70.8,11.3,30),("0",73.1,21,0),
            ("0",77.8,21.7,40),("0",79.2,29.2,90),("0",65.1,31.8,5)]


def gray(level):
    v = 255 - 17 * int(round((level - 1) / 0.5))
    return "#%02x%02x%02x" % (v, v, v)


def table(polys):
    rows = []
    for pid, (level, black, flat) in enumerate(polys):
        for i in range(0, len(flat), 2):
            rows.append({"pid": pid, "i": i, "x": flat[i], "d": flat[i + 1],
                         "f": gray(level), "s": "#000000" if black else "#aaaaaa"})
    return pd.DataFrame(rows)


def panel(polys, labels, width, title_left, title_x, title_y, caption, cap_size):
    xs = alt.Scale(domain=[0, 84], nice=False, zero=False)
    ys = alt.Scale(domain=[0, 50], reverse=True, nice=False, zero=False)
    contour = alt.Chart(table(polys)).mark_line(interpolate="cardinal-closed", tension=-0.4, clip=True, strokeWidth=1.1).encode(
        x=alt.X("x:Q", scale=xs, axis=alt.Axis(orient="top", values=X_TICKS, title="Horizontal distance/m", grid=False,
                                               tickSize=23, tickColor="black", domainColor="black", labelFont=SANS,
                                               labelFontSize=42, labelColor="black", labelPadding=3, labelOffset=-7,
                                               labelFlush=False, labelOverlap=False, titleFont=SERIF, titleFontSize=51,
                                               titleFontWeight="normal", titleColor="black", titleX=title_x, titleY=title_y,
                                               titleBaseline="middle")),
        y=alt.Y("d:Q", scale=ys, axis=alt.Axis(orient="left", values=Y_TICKS, title="Depth/cm", grid=False,
                                               tickSize=23, tickColor="black", domainColor="black", labelFont=SANS,
                                               labelFontSize=42, labelColor="black", labelPadding=13,
                                               labelOverlap=False, titleFont=SERIF, titleFontSize=46,
                                               titleFontWeight="normal", titleColor="black", titleX=title_left, titleY=461,
                                               titleAngle=270, titleBaseline="middle", titleAlign="center")),
        detail="pid:Q", order="i:Q",
        fill=alt.Fill("f:N", scale=None), stroke=alt.Stroke("s:N", scale=None))
    frame = alt.Chart(pd.DataFrame({"x": [0], "d": [0]})).mark_point(opacity=0).encode(
        x=alt.X("x:Q", scale=xs, axis=alt.Axis(orient="bottom", values=X_TICKS, labels=False, title=None, grid=False,
                                               tickSize=23, tickColor="black", domainColor="black")),
        y=alt.Y("d:Q", scale=ys, axis=alt.Axis(orient="right", values=Y_TICKS, labels=False, title=None, grid=False,
                                               tickSize=23, tickColor="black", domainColor="black")))
    lab = pd.DataFrame(labels, columns=["t", "x", "d", "a"])
    text = alt.Chart(lab).mark_text(font=SANS, fontSize=46, color="black", baseline="middle").encode(
        x=alt.X("x:Q", scale=xs, axis=None), y=alt.Y("d:Q", scale=ys, axis=None), text="t:N",
        angle=alt.Angle("a:Q", scale=None))
    layers = [contour, frame, text]
    for piece, px, weight in caption:
        layers.append(alt.Chart(pd.DataFrame({"t": [piece]})).mark_text(
            font=SERIF, fontSize=cap_size, fontWeight=weight, color="black", align="left", baseline="middle").encode(
            x=alt.value(px), y=alt.value(1005), text="t:N"))
    return alt.layer(*layers).resolve_scale(x="independent", y="independent").properties(width=width, height=923)


def bar(levels, height):
    df = pd.DataFrame({"lo": levels, "hi": [v + 0.5 for v in levels], "f": [gray(i * 0.5 + 1) for i in range(16)]})
    return alt.Chart(df).mark_rect(stroke="black", strokeWidth=1).encode(
        x=alt.value(0), x2=alt.value(78),
        y=alt.Y("lo:Q", scale=alt.Scale(domain=[levels[0], levels[-1] + 0.5], nice=False, zero=False),
                axis=alt.Axis(orient="right", values=levels, title=None, labelExpr="'' + datum.value", ticks=False,
                              domain=False, grid=False, labelFont=SANS, labelFontSize=38, labelColor="black",
                              labelPadding=13, labelOverlap=False, labelFlush=False)),
        y2="hi:Q", fill=alt.Fill("f:N", scale=None)).properties(width=78, height=height)


polys_a = base + only_a_low + only_a_high + shared_high + only_a_top + only_a_last
polys_b = base + only_b_low + only_b_high + shared_high + only_b_top

cap_a = [("(", 784, "normal"), ("a", 812, "bold"), (") Spatial distribution of the ammonium nitrogen content", 856, "normal")]
cap_b = [("(", 837, "normal"), ("b", 865, "bold"), (") Ammonium nitrogen content anomaly distribution", 912, "normal")]

spacer = alt.Chart(pd.DataFrame({"x": [0]})).mark_point(opacity=0).encode(x=alt.value(0), y=alt.value(0)).properties(width=1, height=1)

row_a = alt.hconcat(panel(polys_a, labels_a, 3085, -104, 1457, -96, cap_a, 83), bar(LEGEND_A, 914), spacing=91, bounds="flush")
inner_b = alt.hconcat(panel(polys_b, labels_b, 3089, -111, 1476, -105, cap_b, 84), bar(LEGEND_B, 926), spacing=66, bounds="flush")
row_b = alt.hconcat(spacer, inner_b, spacing=6, bounds="flush")
chart = alt.vconcat(row_a, row_b, spacing=10).properties(padding={"left": 10, "top": 2, "right": 0, "bottom": 0}).configure_view(stroke=None)

chart.save("out.html", embed_options={"renderer": "svg", "actions": False})
